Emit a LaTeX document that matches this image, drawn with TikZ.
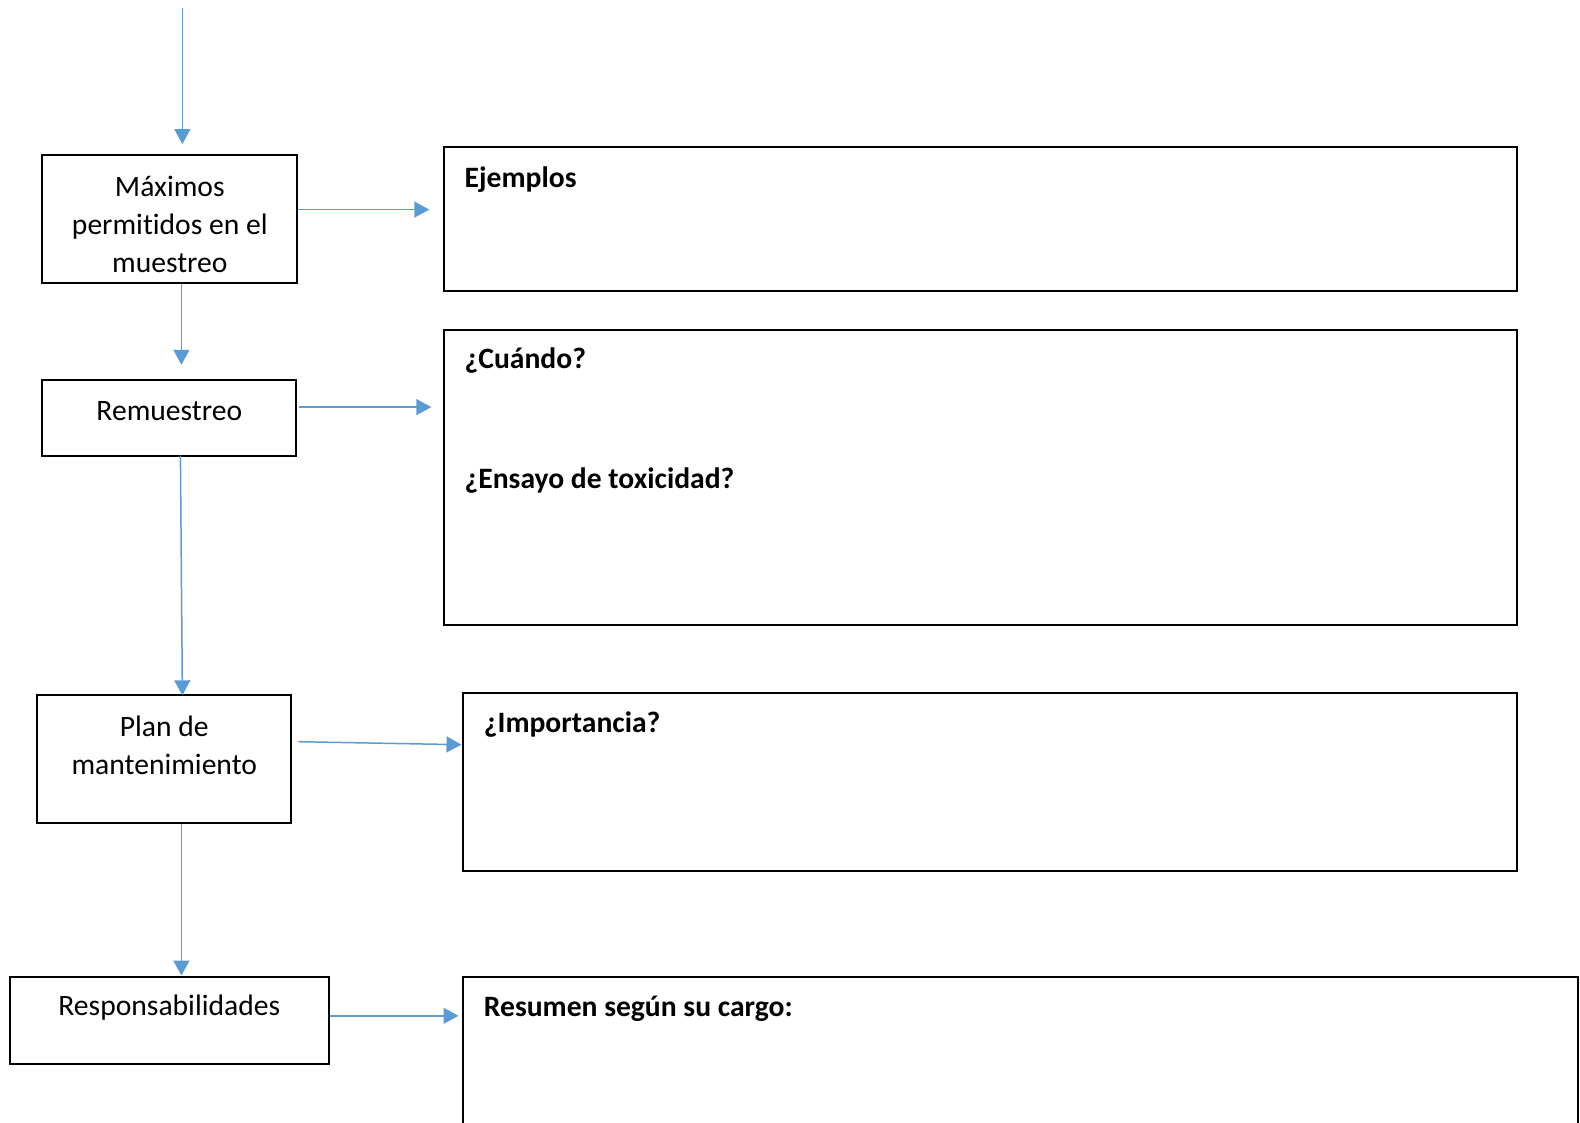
\documentclass[tikz,border=0pt]{standalone}
\usepackage{fontspec}
\setmainfont{Carlito}[RawFeature={-liga,-dlig,-clig}]
\usetikzlibrary{arrows.meta}
\definecolor{conncol}{HTML}{5B9BD5}
\tikzset{
  box/.style={draw=black, line width=2pt, inner sep=0pt, fill=none},
  conn/.style={draw=conncol, line width=1.5pt, -{Triangle[length=15pt,width=16pt]}},
  lbl/.style={inner sep=0pt, font=\fontsize{29.6}{38}\selectfont},
  head/.style={inner sep=0pt, anchor=west, font=\fontsize{29.6}{38}\selectfont\bfseries}
}
\begin{document}
\begin{tikzpicture}[x=1pt,y=-1pt]
\useasboundingbox (0,0) rectangle (1580,1123);
\fill[white] (0,0) rectangle (1580,1123);
% left boxes
\node[box, minimum width=255pt, minimum height=128pt] (maximos) at (169.8,219.2) {};
\node[lbl, align=center] (tmax) at (169.8,224.5) {Máximos\\permitidos en el\\muestreo};
\node[box, minimum width=254pt, minimum height=75.6pt] (remu) at (169.3,417.7) {};
\node[lbl] (tremu) at (169.3,410.9) {Remuestreo};
\node[box, minimum width=254pt, minimum height=128pt] (plan) at (164.3,759.3) {};
\node[lbl, align=center] (tplan) at (164.3,745.4) {Plan de\\mantenimiento};
\node[box, minimum width=318.4pt, minimum height=87.6pt] (resp) at (169.3,1020.3) {};
\node[lbl] (tresp) at (169.3,1007.5) {Responsabilidades};
% right boxes
\node[box, minimum width=1072.2pt, minimum height=144.1pt] (ejem) at (980.5,219.2) {};
\node[head] (tejem) at (464.5,179.2) {Ejemplos};
\node[box, minimum width=1072.2pt, minimum height=295.3pt] (cuando) at (980.5,477.2) {};
\node[head] (tcuando) at (464.5,360.5) {¿Cuándo?};
\node[head] (tensayo) at (464.5,480.5) {¿Ensayo de toxicidad?};
\node[box, minimum width=1054.1pt, minimum height=177.3pt] (impor) at (989.6,782.0) {};
\node[head] (timpor) at (483.7,724.3) {¿Importancia?};
\node[box, minimum width=1115.5pt, minimum height=200pt] (resum) at (1020.3,1076.5) {};
\node[head] (tresum) at (483.7,1008.5) {Resumen según su cargo:};
% connector ends
\coordinate (top) at (182.4,8.1);
\coordinate (t0) at (182.4,144.1);
\coordinate (t1) at (429.3,209.6);
\coordinate (t2) at (181.4,364.8);
\coordinate (t3) at (431.3,407.1);
\coordinate (t4) at (182.4,695.3);
\coordinate (t5) at (461.5,744.7);
\coordinate (t6) at (181.4,975.5);
\coordinate (t7) at (458.5,1015.8);
% connectors
\draw[conn] (top) -- (t0);
\draw[conn] (maximos.east |- t1) -- (t1);
\draw[conn] (maximos.south -| t2) -- (t2);
\draw[conn] ([xshift=2pt]remu.east |- t3) -- (t3);
\draw[conn] (180.4,455.5) -- (t4);
\draw[conn] ([xshift=6pt]plan.east |- 0,741.7) -- (t5);
\draw[conn] (plan.south -| t6) -- (t6);
\draw[conn] (resp.east |- t7) -- (t7);
\end{tikzpicture}
\end{document}
